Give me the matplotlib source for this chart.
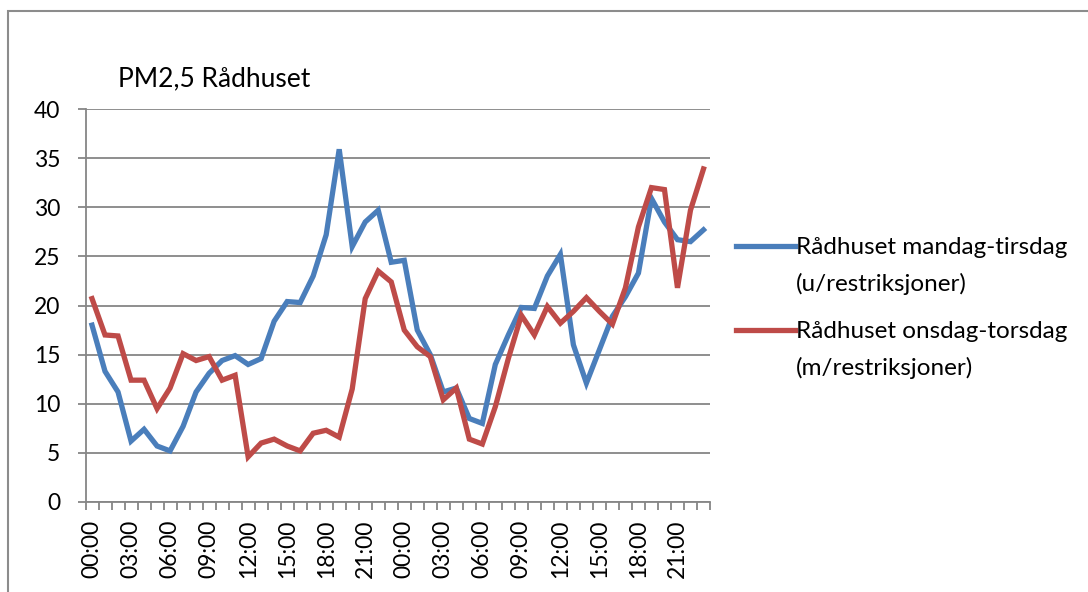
import numpy as np
import matplotlib
matplotlib.use("Agg")
import matplotlib.pyplot as plt
from matplotlib.lines import Line2D
from matplotlib.patches import Rectangle

# hourly PM2.5, two days per series
hours = [f"{h:02d}:00" for h in range(24)] * 2

mandag_tirsdag = [
    18.0, 13.3, 11.2, 6.2, 7.4, 5.7, 5.2, 7.7, 11.2, 13.1, 14.4, 14.9,
    14.0, 14.6, 18.4, 20.4, 20.3, 23.0, 27.2, 35.9, 26.0, 28.5, 29.7, 24.4,
    24.6, 17.5, 15.0, 11.2, 11.6, 8.5, 8.0, 14.0, 17.0, 19.8, 19.7, 23.0,
    25.2, 16.0, 12.1, 15.5, 18.9, 20.9, 23.3, 30.9, 28.5, 26.7, 26.5, 27.7,
]
onsdag_torsdag = [
    20.7, 17.0, 16.9, 12.4, 12.4, 9.5, 11.6, 15.1, 14.4, 14.8, 12.4, 12.9,
    4.6, 6.0, 6.4, 5.7, 5.2, 7.0, 7.3, 6.6, 11.5, 20.7, 23.5, 22.4,
    17.5, 15.8, 14.8, 10.4, 11.6, 6.4, 5.9, 9.7, 14.6, 19.0, 17.0, 19.9,
    18.2, 19.4, 20.8, 19.4, 18.1, 21.8, 28.0, 32.0, 31.8, 21.8, 29.7, 33.9,
]

labels = [("Rådhuset mandag-tirsdag", "(u/restriksjoner)"),
          ("Rådhuset onsdag-torsdag", "(m/restriksjoner)")]
colors = ["#4A7EBB", "#BE4B48"]
grey = "#868686"

plt.rcParams["font.family"] = ["Lato", "DejaVu Sans"]

W, H = 1088, 592
fig = plt.figure(figsize=(W / 100, H / 100), dpi=100)
ax = fig.add_axes([85.5 / W, 1 - 502 / H, (710 - 85.5) / W, (502 - 109) / H])

x = np.arange(len(hours))
ax.plot(x, mandag_tirsdag, color=colors[0], lw=3.8, solid_joinstyle="miter")
ax.plot(x, onsdag_torsdag, color=colors[1], lw=3.8, solid_joinstyle="miter")

ax.set_xlim(-0.5, len(hours) - 0.5)
ax.set_ylim(0, 40)
ax.set_yticks(np.arange(0, 41, 5))
ax.yaxis.grid(True, color=grey, lw=1.3)
ax.set_axisbelow(True)

ax.set_xticks(x[::3])
ax.set_xticklabels(hours[::3], rotation=90, fontsize=16.5)
ax.set_xticks(np.arange(-0.5, len(hours), 1), minor=True)
ax.tick_params(axis="x", which="major", length=0, pad=13)
ax.tick_params(axis="x", which="minor", length=6, width=1.3, color=grey, direction="out")
ax.tick_params(axis="y", length=6, width=1.3, color=grey, labelsize=16.5, pad=12)

for s in ["top", "right"]:
    ax.spines[s].set_visible(False)
for s in ["left", "bottom"]:
    ax.spines[s].set_color(grey)
    ax.spines[s].set_linewidth(1.3)

fig.text(118 / W, 1 - 86 / H, "PM2,5 Rådhuset", fontsize=19, ha="left", va="baseline")

# legend drawn by hand so the line sits at the first text line
for k, ((l1, l2), c) in enumerate(zip(labels, colors)):
    y1 = 246 + 84 * k
    fig.add_artist(Line2D([736 / W, 795 / W], [1 - y1 / H] * 2, color=c, lw=3.8,
                          transform=fig.transFigure))
    fig.text(796 / W, 1 - y1 / H, l1, fontsize=17.5, ha="left", va="center_baseline")
    fig.text(796 / W, 1 - (y1 + 36) / H, l2, fontsize=17.5, ha="left", va="center_baseline")

fig.add_artist(Rectangle((7.5 / W, -0.1), 1.2, 1 - 10.5 / H + 0.1, fill=False,
                         edgecolor="#8c8c8c", lw=1.5, transform=fig.transFigure))

fig.savefig("out.png", dpi=100)
